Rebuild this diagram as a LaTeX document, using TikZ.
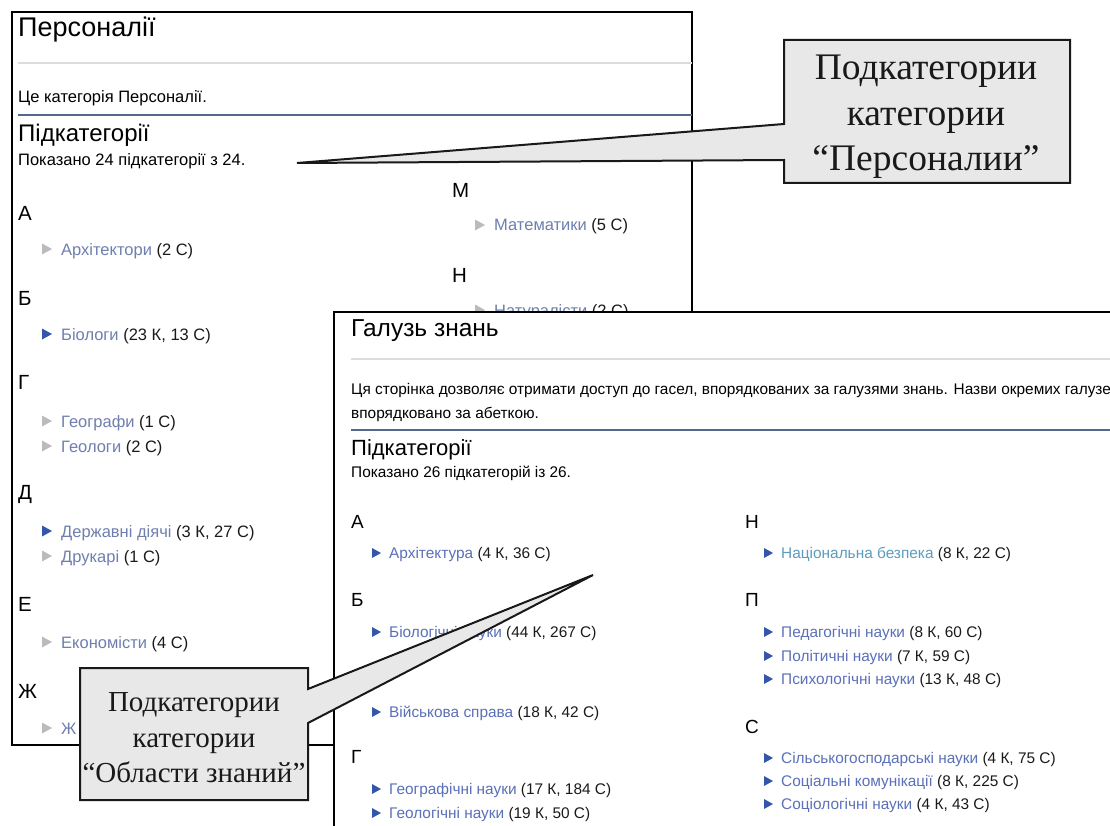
\documentclass[tikz,border=0pt]{standalone}
\usepackage{fontspec}
\newfontfamily\ui{Liberation Sans}
\newfontfamily\ser{Liberation Serif}
\definecolor{lnkA}{HTML}{6F7FAE}
\definecolor{lnkB}{HTML}{5A70B8}
\definecolor{lnkT}{HTML}{5C9CBD}
\definecolor{mkblue}{HTML}{3355AA}
\definecolor{mkgray}{HTML}{BBBBBB}
\definecolor{cnt}{HTML}{1A1A1A}
\definecolor{ruleblue}{HTML}{54688F}
\definecolor{rulegray}{HTML}{DCDCDC}
\definecolor{callfill}{HTML}{E8E8E8}
\tikzset{
  panel/.style={draw=black, line width=1.5pt, fill=white},
  ttlA/.style={font=\ui\fontsize{27}{31}\selectfont, inner sep=0, anchor=base west, text=black},
  ttlB/.style={font=\ui\fontsize{24.5}{28}\selectfont, inner sep=0, anchor=base west, text=black},
  hdA/.style={font=\ui\fontsize{24}{28}\selectfont, inner sep=0, anchor=base west, text=black},
  hdB/.style={font=\ui\fontsize{22}{26}\selectfont, inner sep=0, anchor=base west, text=black},
  bodyA/.style={font=\ui\fontsize{16.5}{20}\selectfont, inner sep=0, anchor=base west, text=black},
  bodyB/.style={font=\ui\fontsize{15.4}{19}\selectfont, inner sep=0, anchor=base west, text=black},
  letA/.style={font=\ui\fontsize{20.5}{24}\selectfont, inner sep=0, anchor=base west, text=black},
  letB/.style={font=\ui\fontsize{19}{22}\selectfont, inner sep=0, anchor=base west, text=black},
  callout/.style={fill=callfill, draw=black!90, line width=2pt, line join=miter},
  calltxtA/.style={font=\ser\fontsize{37.5}{45.5}\selectfont, align=center, inner sep=0, text=black!90},
  calltxtB/.style={font=\ser\fontsize{29}{35.5}\selectfont, align=center, inner sep=0, text=black!90},
}
% item in panel 1: name, marker x, centre y, marker colour, link text, count
\newcommand\itemP[6]{%
  \fill[#4] (#2,#3-5.5) -- (#2+10,#3) -- (#2,#3+5.5) -- cycle;
  \node[bodyA, text=lnkA] (#1) at (#2+19,#3+6) {#5\ifx&#6&\else\space\textcolor{cnt}{(#6)}\fi};}
% item in panel 2: name, marker x, centre y, link colour, link text, count
\newcommand\itemQ[6]{%
  \fill[mkblue] (#2,#3-5) -- (#2+9,#3) -- (#2,#3+5) -- cycle;
  \node[bodyB, text=#4] (#1) at (#2+17,#3+5.5) {#5\space\textcolor{cnt}{(#6)}};}
\begin{document}
\begin{tikzpicture}[x=1pt,y=-1pt]
\useasboundingbox (0,0) rectangle (1110,826);
\clip (0,0) rectangle (1110,826);
% ---------------- panel 1 ----------------
\draw[panel] (12,12) rectangle (692,745);
\node[ttlA] (t1) at (18,37) {Персоналії};
\draw[rulegray, line width=1.2pt] (18,63) -- (692,63);
\node[bodyA] (d1) at (18,103) {Це категорія Персоналії.};
\draw[ruleblue, line width=1.5pt] (18,115) -- (692,115);
\node[hdA] (s1) at (18,142) {Підкатегорії};
\node[bodyA] (c1) at (18,166) {Показано 24 підкатегорії з 24.};
\node[letA] (lA) at (18,220.5) {А};
\node[letA] (lM) at (452,197.5) {М};
\node[letA] (lN) at (452,282.5) {Н};
\node[letA] (lB) at (18,305.5) {Б};
\node[letA] (lG) at (18,389.5) {Г};
\node[letA] (lD) at (18,499.5) {Д};
\node[letA] (lE) at (18,611.5) {Е};
\node[letA] (lZ) at (18,698.5) {Ж};
\itemP{iMat}{475}{225}{mkgray}{Математики}{5 С}
\itemP{iArch}{42}{249}{mkgray}{Архітектори}{2 С}
\itemP{iNat}{475}{310}{mkgray}{Натуралісти}{2 С}
\itemP{iBio}{42}{334}{mkblue}{Біологи}{23 К, 13 С}
\itemP{iGeog}{42}{421}{mkgray}{Географи}{1 С}
\itemP{iGeol}{42}{446}{mkgray}{Геологи}{2 С}
\itemP{iDer}{42}{531}{mkblue}{Державні діячі}{3 К, 27 С}
\itemP{iDru}{42}{556}{mkgray}{Друкарі}{1 С}
\itemP{iEko}{42}{642}{mkgray}{Економісти}{4 С}
\itemP{iZh}{42}{728}{mkgray}{Ж}{}
% ---------------- panel 2 ----------------
\draw[panel] (334,312) rectangle (1140,860);
\node[ttlB] (t2) at (351,336.5) {Галузь знань};
\draw[rulegray, line width=1.2pt] (351,359) -- (1140,359);
\node[bodyB] (d2a) at (351,394.5) {Ця сторінка дозволяє отримати доступ до гасел, впорядкованих за галузями знань. Назви окремих галузе};
\node[bodyB] (d2b) at (351,418.5) {впорядковано за абеткою.};
\draw[ruleblue, line width=1.5pt] (351,430) -- (1140,430);
\node[hdB] (s2) at (351,455) {Підкатегорії};
\node[bodyB] (c2) at (351,477.5) {Показано 26 підкатегорій із 26.};
\node[letB] (mA) at (351,528.8) {А};
\node[letB] (mN) at (745,528.8) {Н};
\node[letB] (mB) at (351,606.8) {Б};
\node[letB] (mP) at (745,606.8) {П};
\node[letB] (mS) at (745,733.8) {С};
\node[letB] (mG) at (351,763.8) {Г};
\itemQ{jArch}{372}{553}{lnkB}{Архітектура}{4 К, 36 С}
\itemQ{jNat}{764}{553}{lnkT}{Національна безпека}{8 К, 22 С}
\itemQ{jBio}{372}{632}{lnkB}{Біологічні науки}{44 К, 267 С}
\itemQ{jPed}{764}{632}{lnkB}{Педагогічні науки}{8 К, 60 С}
\itemQ{jPol}{764}{656}{lnkB}{Політичні науки}{7 К, 59 С}
\itemQ{jPsy}{764}{679}{lnkB}{Психологічні науки}{13 К, 48 С}
\itemQ{jVij}{372}{712}{lnkB}{Військова справа}{18 К, 42 С}
\itemQ{jSil}{764}{758}{lnkB}{Сільськогосподарські науки}{4 К, 75 С}
\itemQ{jSoc}{764}{781}{lnkB}{Соціальні комунікації}{8 К, 225 С}
\itemQ{jSlg}{764}{804}{lnkB}{Соціологічні науки}{4 К, 43 С}
\itemQ{jGeo}{372}{789}{lnkB}{Географічні науки}{17 К, 184 С}
\itemQ{jGeol}{372}{813}{lnkB}{Геологічні науки}{19 К, 50 С}
% ---------------- callout 1 ----------------
\coordinate (tip1) at (297,163);
\draw[callout] (784,40) -- (1070,40) -- (1070,183) -- (784,183) -- (784,160) -- (tip1) -- (784,124) -- cycle;
\node[calltxtA] (k1) at (926,117) {Подкатегории\\категории\\“Персоналии”};
% ---------------- callout 2 ----------------
\coordinate (tip2) at (593,575);
\draw[callout] (80,668) -- (308,668) -- (308,689) -- (tip2) -- (308,723) -- (308,800) -- (80,800) -- cycle;
\node[calltxtB] (k2) at (194,738) {Подкатегории\\категории\\“Области знаний”};
\end{tikzpicture}
\end{document}
